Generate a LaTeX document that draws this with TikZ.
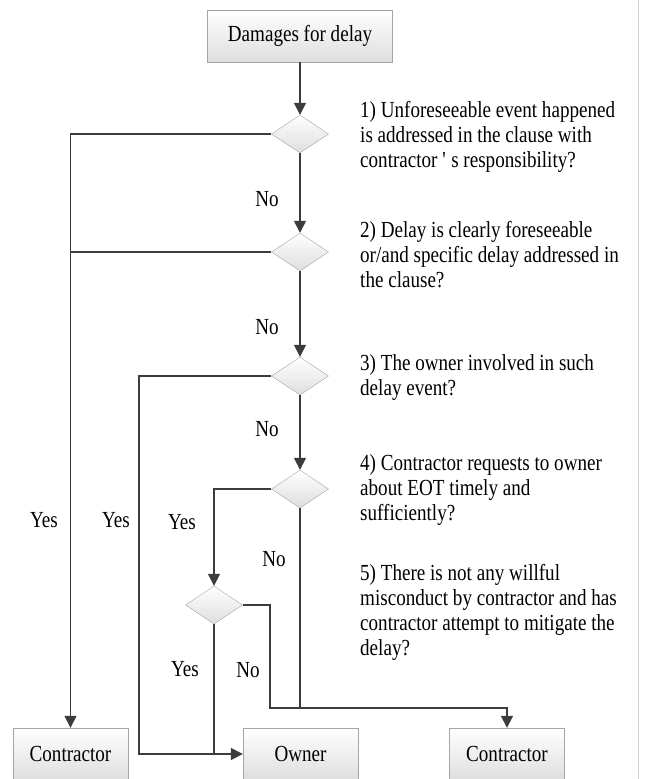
\documentclass[tikz,border=0pt]{standalone}
\usepackage{fontspec}
\setmainfont{Liberation Serif}[FakeStretch=0.83]
\usetikzlibrary{shapes.geometric,arrows.meta}
\definecolor{flowline}{RGB}{60,60,60}
\definecolor{boxedge}{RGB}{165,165,165}
\definecolor{boxshade}{RGB}{222,222,222}

\begin{document}
\begin{tikzpicture}[x=1pt, y=-1pt, font=\fontsize{23pt}{25pt}\selectfont]
    \tikzstyle{outcome} = [rectangle, draw=boxedge, top color=white, bottom color=boxshade, minimum width=115pt, minimum height=52pt, inner sep=0pt]
    \tikzstyle{decision} = [diamond, draw=boxedge, top color=white, bottom color=boxshade, minimum width=57pt, minimum height=38pt, inner sep=0pt]
    \tikzstyle{flow} = [draw=flowline, line width=1.5pt]
    \tikzstyle{flowarrow} = [flow, -{Triangle[length=12pt,width=12pt]}]
    \tikzstyle{question} = [anchor=base west, align=left, inner sep=0pt]

    \useasboundingbox (0,0) rectangle (646,779);
    \draw[gray!35, line width=1pt] (638,0) -- (638,779);

    \node[outcome, minimum width=185pt] (start) at (300,36) {Damages for delay};
    \node[decision] (d1) at (300,134) {};
    \node[decision] (d2) at (300,252) {};
    \node[decision] (d3) at (300,376) {};
    \node[decision] (d4) at (300,489) {};
    \node[decision] (d5) at (214,605) {};
    \node[outcome] (c1) at (70.5,754) {Contractor};
    \node[outcome] (own) at (300.5,754) {Owner};
    \node[outcome] (c2) at (507,754) {Contractor};

    \coordinate (ownbend) at (139,754);
    \coordinate (nojoin) at (270,708);

    \draw[flowarrow] (start) -- (d1);
    \draw[flowarrow] (d1) -- (d2);
    \draw[flowarrow] (d2) -- (d3);
    \draw[flowarrow] (d3) -- (d4);
    \draw[flowarrow] (d1.west) -| (c1.north);
    \draw[flow] (d2.west) -- (d2.west -| c1.north);
    \draw[flowarrow] (d3.west) -| (ownbend) -- (own.west);
    \draw[flowarrow] (d4.west) -| (d5.north);
    \draw[flowarrow] (d5.east) -| (nojoin) -| (c2.north);
    \draw[flow] (d4.south) -- (d4.south |- nojoin);
    \draw[flow] (d5.south) -- (d5.south |- own.west);

    \node (no1) at (267,199) {No};
    \node (no2) at (267,327) {No};
    \node (no3) at (267,429) {No};
    \node (no4) at (274,559) {No};
    \node (no5) at (248,670) {No};
    \node (yes1) at (44,520) {Yes};
    \node (yes2) at (116,520) {Yes};
    \node (yes3) at (182,522) {Yes};
    \node (yes4) at (185,669) {Yes};

    \node[question] (q1) at (360,167) {1) Unforeseeable event happened\\is addressed in the clause with\\contractor \textquotesingle\ s responsibility?};
    \node[question] (q2) at (360,287) {2) Delay is clearly foreseeable\\or/and specific delay addressed in\\the clause?};
    \node[question] (q3) at (360,395) {3) The owner involved in such\\delay event?};
    \node[question] (q4) at (360,520) {4) Contractor requests to owner\\about EOT timely and\\sufficiently?};
    \node[question] (q5) at (360,655) {5) There is not any willful\\misconduct by contractor and has\\contractor attempt to mitigate the\\delay?};
\end{tikzpicture}
\end{document}
